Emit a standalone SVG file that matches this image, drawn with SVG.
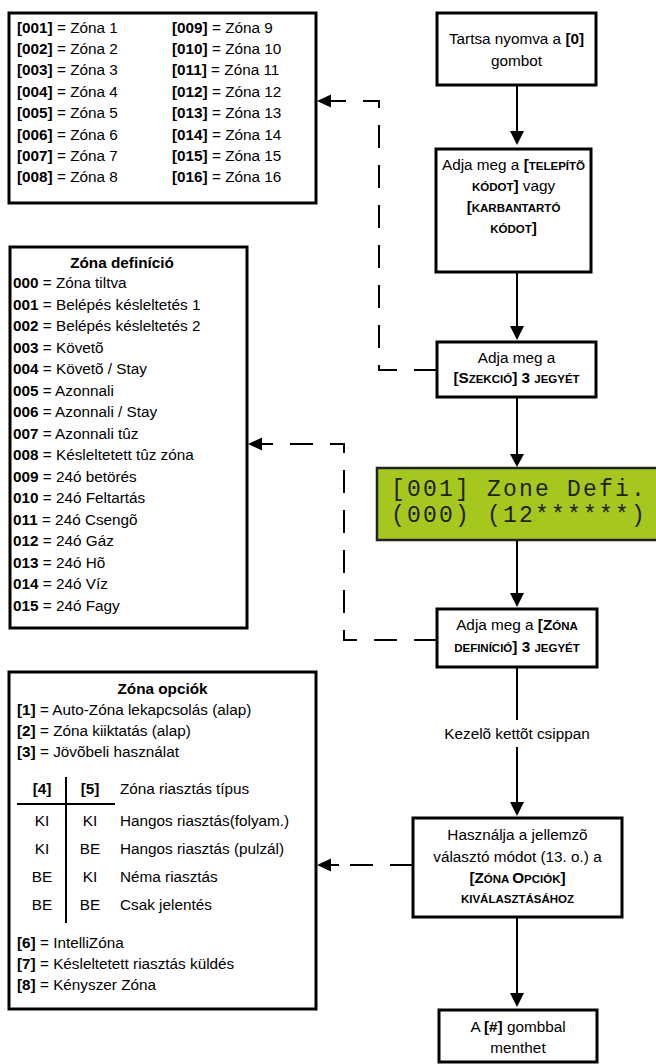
<svg xmlns="http://www.w3.org/2000/svg" width="656" height="1064" viewBox="0 0 656 1064">
<style>
text{font-family:"Liberation Sans",Arial,sans-serif;font-size:15.3px;fill:#000}
.b{font-weight:bold}
.sc{font-weight:bold;font-size:11.5px}
.c{text-anchor:middle}
.box{fill:#fff;stroke:#000;stroke-width:3}
.ln{fill:none;stroke:#000;stroke-width:2}
.dash{fill:none;stroke:#000;stroke-width:2;stroke-dasharray:23 17}
.ah{fill:#000}
.lcd{font-family:"Liberation Mono","DejaVu Sans Mono",monospace;font-size:23px;letter-spacing:2.2px;fill:#1c1f0a}
</style>
<rect width="656" height="1064" fill="#fff"/>

<g id="zone-list">
<rect class="box" x="9" y="13" width="307" height="190"/>
<text x="17" y="32.5"><tspan class="b">[001]</tspan> = Zóna 1</text>
<text x="17" y="53.9"><tspan class="b">[002]</tspan> = Zóna 2</text>
<text x="17" y="75.3"><tspan class="b">[003]</tspan> = Zóna 3</text>
<text x="17" y="96.7"><tspan class="b">[004]</tspan> = Zóna 4</text>
<text x="17" y="118.1"><tspan class="b">[005]</tspan> = Zóna 5</text>
<text x="17" y="139.5"><tspan class="b">[006]</tspan> = Zóna 6</text>
<text x="17" y="160.9"><tspan class="b">[007]</tspan> = Zóna 7</text>
<text x="17" y="182.3"><tspan class="b">[008]</tspan> = Zóna 8</text>
<text x="172" y="32.5"><tspan class="b">[009]</tspan> = Zóna 9</text>
<text x="172" y="53.9"><tspan class="b">[010]</tspan> = Zóna 10</text>
<text x="172" y="75.3"><tspan class="b">[011]</tspan> = Zóna 11</text>
<text x="172" y="96.7"><tspan class="b">[012]</tspan> = Zóna 12</text>
<text x="172" y="118.1"><tspan class="b">[013]</tspan> = Zóna 13</text>
<text x="172" y="139.5"><tspan class="b">[014]</tspan> = Zóna 14</text>
<text x="172" y="160.9"><tspan class="b">[015]</tspan> = Zóna 15</text>
<text x="172" y="182.3"><tspan class="b">[016]</tspan> = Zóna 16</text>
</g>

<g id="zone-definition">
<rect class="box" x="10" y="247" width="237" height="381"/>
<text class="b c" x="122" y="267.5">Zóna definíció</text>
<text x="13" y="288"><tspan class="b">000</tspan> = Zóna tiltva</text>
<text x="13" y="309.5"><tspan class="b">001</tspan> = Belépés késleltetés 1</text>
<text x="13" y="331"><tspan class="b">002</tspan> = Belépés késleltetés 2</text>
<text x="13" y="352.5"><tspan class="b">003</tspan> = Követõ</text>
<text x="13" y="374"><tspan class="b">004</tspan> = Követõ / Stay</text>
<text x="13" y="395.5"><tspan class="b">005</tspan> = Azonnali</text>
<text x="13" y="417"><tspan class="b">006</tspan> = Azonnali / Stay</text>
<text x="13" y="438.5"><tspan class="b">007</tspan> = Azonnali tûz</text>
<text x="13" y="460"><tspan class="b">008</tspan> = Késleltetett tûz zóna</text>
<text x="13" y="481.5"><tspan class="b">009</tspan> = 24ó betörés</text>
<text x="13" y="503"><tspan class="b">010</tspan> = 24ó Feltartás</text>
<text x="13" y="524.5"><tspan class="b">011</tspan> = 24ó Csengõ</text>
<text x="13" y="546"><tspan class="b">012</tspan> = 24ó Gáz</text>
<text x="13" y="567.5"><tspan class="b">013</tspan> = 24ó Hõ</text>
<text x="13" y="589"><tspan class="b">014</tspan> = 24ó Víz</text>
<text x="13" y="610.5"><tspan class="b">015</tspan> = 24ó Fagy</text>
</g>

<g id="zone-options">
<rect class="box" x="9" y="672" width="307" height="337"/>
<text class="b c" x="162.5" y="693.5">Zóna opciók</text>
<text x="17" y="715"><tspan class="b">[1]</tspan> = Auto-Zóna lekapcsolás (alap)</text>
<text x="17" y="736"><tspan class="b">[2]</tspan> = Zóna kiiktatás (alap)</text>
<text x="17" y="757"><tspan class="b">[3]</tspan> = Jövõbeli használat</text>
<line class="ln" x1="17" y1="804" x2="115" y2="804"/>
<line class="ln" x1="66" y1="777" x2="66" y2="923"/>
<text class="b c" x="42" y="793.5">[4]</text>
<text class="b c" x="90" y="793.5">[5]</text>
<text x="120" y="793.5">Zóna riasztás típus</text>
<text class="c" x="42" y="826">KI</text><text class="c" x="90" y="826">KI</text><text x="120" y="826">Hangos riasztás(folyam.)</text>
<text class="c" x="42" y="854">KI</text><text class="c" x="90" y="854">BE</text><text x="120" y="854">Hangos riasztás (pulzál)</text>
<text class="c" x="42" y="882">BE</text><text class="c" x="90" y="882">KI</text><text x="120" y="882">Néma riasztás</text>
<text class="c" x="42" y="910">BE</text><text class="c" x="90" y="910">BE</text><text x="120" y="910">Csak jelentés</text>
<text x="17" y="948"><tspan class="b">[6]</tspan> = IntelliZóna</text>
<text x="17" y="969"><tspan class="b">[7]</tspan> = Késleltetett riasztás küldés</text>
<text x="17" y="990"><tspan class="b">[8]</tspan> = Kényszer Zóna</text>
</g>

<g id="step-hold-0">
<rect class="box" x="437" y="13" width="159" height="72"/>
<text class="c" x="516.5" y="44">Tartsa nyomva a <tspan class="b">[0]</tspan></text>
<text class="c" x="516.5" y="66">gombot</text>
</g>

<g id="step-code">
<rect class="box" x="436" y="149" width="155" height="123"/>
<text class="c" x="513.5" y="170">Adja meg a <tspan class="b">[</tspan><tspan class="sc">TELEPÍTÕ</tspan></text>
<text class="c" x="513.5" y="191"><tspan class="sc">KÓDOT</tspan><tspan class="b">]</tspan> vagy</text>
<text class="c" x="513.5" y="212"><tspan class="b">[</tspan><tspan class="sc">KARBANTARTÓ</tspan></text>
<text class="c" x="513.5" y="233"><tspan class="sc">KÓDOT</tspan><tspan class="b">]</tspan></text>
</g>

<g id="step-section">
<rect class="box" x="437" y="342" width="159" height="55"/>
<text class="c" x="516.5" y="363">Adja meg a</text>
<text class="c" x="516.5" y="383"><tspan class="b">[S</tspan><tspan class="sc">ZEKCIÓ</tspan><tspan class="b">] 3 </tspan><tspan class="sc">JEGYÉT</tspan></text>
</g>

<g id="lcd-display">
<rect x="377" y="468" width="281" height="72" fill="#a6c81e" stroke="#222" stroke-width="2.5"/>
<text class="lcd" x="391" y="496">[001] Zone Defi.</text>
<text class="lcd" x="391" y="522">(000) (12******)</text>
</g>

<g id="step-zone-def">
<rect class="box" x="437" y="609" width="160" height="58"/>
<text class="c" x="517" y="630">Adja meg a <tspan class="b">[Z</tspan><tspan class="sc">ÓNA</tspan></text>
<text class="c" x="517" y="652"><tspan class="sc">DEFINÍCIÓ</tspan><tspan class="b">] 3 </tspan><tspan class="sc">JEGYÉT</tspan></text>
</g>

<g id="step-zone-options">
<rect class="box" x="413" y="818" width="209" height="99"/>
<text class="c" x="517.5" y="840">Használja a jellemzõ</text>
<text class="c" x="517.5" y="862">választó módot (13. o.) a</text>
<text class="c" x="517.5" y="883"><tspan class="b">[Z</tspan><tspan class="sc">ÓNA </tspan><tspan class="b">O</tspan><tspan class="sc">PCIÓK</tspan><tspan class="b">]</tspan></text>
<text class="c" x="517.5" y="903"><tspan class="sc">KIVÁLASZTÁSÁHOZ</tspan></text>
</g>

<g id="step-save">
<rect class="box" x="439" y="1010" width="158" height="52"/>
<text class="c" x="518" y="1032">A <tspan class="b">[#]</tspan> gombbal</text>
<text class="c" x="518" y="1053">menthet</text>
</g>

<g id="connectors">
<line class="ln" x1="517" y1="85" x2="517" y2="132"/>
<polygon class="ah" points="510,131 524,131 517,145"/>
<line class="ln" x1="517" y1="272" x2="517" y2="327"/>
<polygon class="ah" points="510,326 524,326 517,340"/>
<line class="ln" x1="517" y1="397" x2="517" y2="455"/>
<polygon class="ah" points="510,454 524,454 517,467"/>
<line class="ln" x1="517" y1="540" x2="517" y2="594"/>
<polygon class="ah" points="510,593 524,593 517,607"/>
<line class="ln" x1="517" y1="667" x2="517" y2="720"/>
<text class="c" x="517" y="739">Kezelõ kettõt csippan</text>
<line class="ln" x1="517" y1="747" x2="517" y2="803"/>
<polygon class="ah" points="510,802 524,802 517,816"/>
<line class="ln" x1="517" y1="917" x2="517" y2="994"/>
<polygon class="ah" points="510,993 524,993 517,1007"/>

<path class="dash" d="M437,370 H379 V101 H331"/>
<line class="ln" x1="330" y1="101" x2="341" y2="101"/>
<polygon class="ah" points="317,101 331,94.5 331,107.5"/>

<path class="dash" d="M437,640 H344 V444 H260"/>
<line class="ln" x1="259" y1="444" x2="268" y2="444"/>
<polygon class="ah" points="248,444 262,437.5 262,450.5"/>

<path class="dash" d="M413,865 H330"/>
<line class="ln" x1="329" y1="865" x2="339" y2="865"/>
<polygon class="ah" points="317,865 331,858.5 331,871.5"/>
</g>
</svg>
